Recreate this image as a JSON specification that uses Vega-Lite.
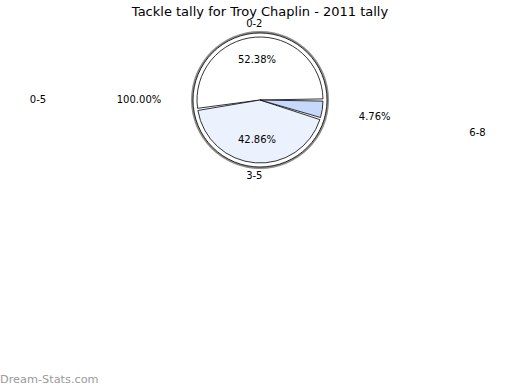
{
  "$schema": "https://vega.github.io/schema/vega-lite/v6.json",
  "width": 520,
  "height": 160,
  "padding": {"top": 20, "left": 0, "right": 0, "bottom": 210},
  "autosize": {"type": "none"},
  "background": "white",
  "title": {"text": "Tackle tally for Troy Chaplin - 2011 tally", "font": "DejaVu Sans", "fontSize": 13, "fontWeight": "normal", "color": "#000", "offset": 4, "frame": "group", "anchor": "middle", "dy": 147},
  "datasets": {
    "slices": [
      {"cat": "0-2", "share": 0.52381},
      {"cat": "3-5", "share": 0.428571},
      {"cat": "6-8", "share": 0.047619}
    ],
    "total": [{"cat": "0-5", "share": 1}],
    "brand": [{"text": "Dream-Stats.com"}]
  },
  "config": {"view": {"stroke": null}, "text": {"font": "DejaVu Sans", "fontSize": 10, "color": "#000"}},
  "layer": [
    {
      "data": {"name": "total"},
      "mark": {"type": "arc", "outerRadius": 69, "fill": "#8c8c8c", "stroke": null},
      "encoding": {"theta": {"field": "share", "type": "quantitative", "stack": true, "scale": {"domain": [0, 1], "range": [1.5708, -4.7124]}}}
    },
    {
      "data": {"name": "total"},
      "mark": {"type": "arc", "outerRadius": 67, "fill": "#ffffff", "stroke": "#000", "strokeWidth": 0.8},
      "encoding": {"theta": {"field": "share", "type": "quantitative", "stack": true, "scale": {"domain": [0, 1], "range": [1.5708, -4.7124]}}}
    },
    {
      "data": {"name": "slices"},
      "mark": {"type": "arc", "outerRadius": 63, "padAngle": 0.035, "stroke": "#000", "strokeWidth": 0.8},
      "encoding": {
        "theta": {"field": "share", "type": "quantitative", "stack": true, "scale": {"domain": [0, 1], "range": [1.5708, -4.7124]}},
        "order": {"field": "cat", "type": "ordinal", "sort": "ascending"},
        "color": {"field": "cat", "type": "nominal", "legend": null, "scale": {"domain": ["0-2", "3-5", "6-8"], "range": ["#ffffff", "#ebf2fe", "#c6d9fc"]}}
      }
    },
    {
      "data": {"name": "slices"},
      "mark": {"type": "text", "radius": 40},
      "encoding": {
        "theta": {"field": "share", "type": "quantitative", "stack": true, "scale": {"domain": [0, 1], "range": [1.5708, -4.7124]}},
        "order": {"field": "cat", "type": "ordinal", "sort": "ascending"},
        "text": {"condition": {"test": "datum.cat === '6-8'", "value": ""}, "field": "share", "type": "quantitative", "format": ".2%"}
      }
    },
    {
      "data": {"name": "slices"},
      "mark": {"type": "text", "radius": 116},
      "encoding": {
        "theta": {"field": "share", "type": "quantitative", "stack": true, "scale": {"domain": [0, 1], "range": [1.5708, -4.7124]}},
        "order": {"field": "cat", "type": "ordinal", "sort": "ascending"},
        "text": {"condition": {"test": "datum.cat !== '6-8'", "value": ""}, "field": "share", "type": "quantitative", "format": ".2%"}
      }
    },
    {
      "data": {"name": "slices"},
      "mark": {"type": "text", "radius": 76},
      "encoding": {
        "theta": {"field": "share", "type": "quantitative", "stack": true, "scale": {"domain": [0, 1], "range": [1.5708, -4.7124]}},
        "order": {"field": "cat", "type": "ordinal", "sort": "ascending"},
        "text": {"condition": {"test": "datum.cat === '6-8'", "value": ""}, "field": "cat", "type": "nominal"}
      }
    },
    {
      "data": {"name": "slices"},
      "mark": {"type": "text", "radius": 220},
      "encoding": {
        "theta": {"field": "share", "type": "quantitative", "stack": true, "scale": {"domain": [0, 1], "range": [1.5708, -4.7124]}},
        "order": {"field": "cat", "type": "ordinal", "sort": "ascending"},
        "text": {"condition": {"test": "datum.cat !== '6-8'", "value": ""}, "field": "cat", "type": "nominal"}
      }
    },
    {
      "data": {"name": "total"},
      "mark": {"type": "text", "radius": 121},
      "encoding": {
        "theta": {"field": "share", "type": "quantitative", "stack": true, "scale": {"domain": [0, 1], "range": [1.5708, -4.7124]}},
        "text": {"field": "share", "type": "quantitative", "format": ".2%"}
      }
    },
    {
      "data": {"name": "total"},
      "mark": {"type": "text", "radius": 222},
      "encoding": {
        "theta": {"field": "share", "type": "quantitative", "stack": true, "scale": {"domain": [0, 1], "range": [1.5708, -4.7124]}},
        "text": {"field": "cat", "type": "nominal"}
      }
    },
    {
      "data": {"name": "brand"},
      "mark": {"type": "text", "align": "left", "baseline": "middle", "fontSize": 11.3, "color": "#9a9a9a", "font": "DejaVu Sans"},
      "encoding": {
        "x": {"value": 0},
        "y": {"value": 360},
        "text": {"field": "text", "type": "nominal"}
      }
    }
  ]
}
